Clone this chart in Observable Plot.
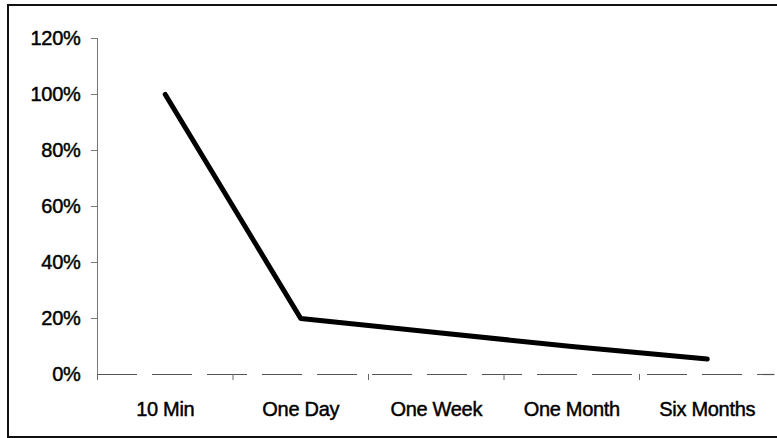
<!DOCTYPE html>
<html>
<head>
<meta charset="utf-8">
<script src="https://cdn.jsdelivr.net/npm/d3@7"></script>
<script src="https://cdn.jsdelivr.net/npm/@observablehq/plot@0.6"></script>
<style>
  html, body { margin: 0; padding: 0; background: #fff; }
  #wrap { position: relative; width: 777px; height: 438px; overflow: hidden; }
  #border { position: absolute; left: 7px; top: 4px; width: 775px; height: 430px;
            border-left: 2px solid #111; border-top: 2px solid #111; border-bottom: 2px solid #111;
            pointer-events: none; }
  svg text { stroke: #000; stroke-width: 0.45px; letter-spacing: -0.3px; }
</style>
</head>
<body>
<div id="wrap"><div id="border"></div></div>
<script>
const categories = ["10 Min", "One Day", "One Week", "One Month", "Six Months"];
const values = [100, 20, 15, 10, 5.5];
const yTicks = [0, 20, 40, 60, 80, 100, 120];

const data = categories.map((c, i) => ({i, c, v: values[i]}));
const catIdx = categories.map((_, i) => i);
const boundaries = [-0.5, ...categories.slice(0, -1).map((_, i) => i + 0.5)];

const chart = Plot.plot({
  width: 777,
  height: 438,
  marginLeft: 97,
  marginRight: 2.5,
  marginTop: 38,
  marginBottom: 64,
  style: {fontFamily: "'Liberation Sans', Arial, sans-serif", fontSize: "20px", color: "#000", background: "transparent"},
  x: {type: "linear", domain: [-0.5, categories.length - 0.5], label: null},
  y: {domain: [0, 120], label: null},
  marks: [
    Plot.ruleX([-0.5], {stroke: "#777", strokeWidth: 1}),
    Plot.ruleY([0], {stroke: "#555", strokeWidth: 1.2, strokeDasharray: "40,15"}),
    Plot.axisY({ticks: yTicks.filter(d => d > 0), tickSize: 6, tickFormat: () => "", stroke: "#777", label: null}),
    Plot.axisY({ticks: yTicks, tickSize: 0, tickPadding: 17, tickFormat: d => d + "%", label: null}),
    Plot.axisX({ticks: boundaries, tickSize: 6, tickFormat: () => "", stroke: "#666", label: null}),
    Plot.axisX({ticks: catIdx, tickSize: 0, tickPadding: 27, tickFormat: i => categories[i], label: null}),
    Plot.line(data, {x: "i", y: "v", stroke: "#000", strokeWidth: 5})
  ]
});
document.getElementById("wrap").prepend(chart);
</script>
</body>
</html>
